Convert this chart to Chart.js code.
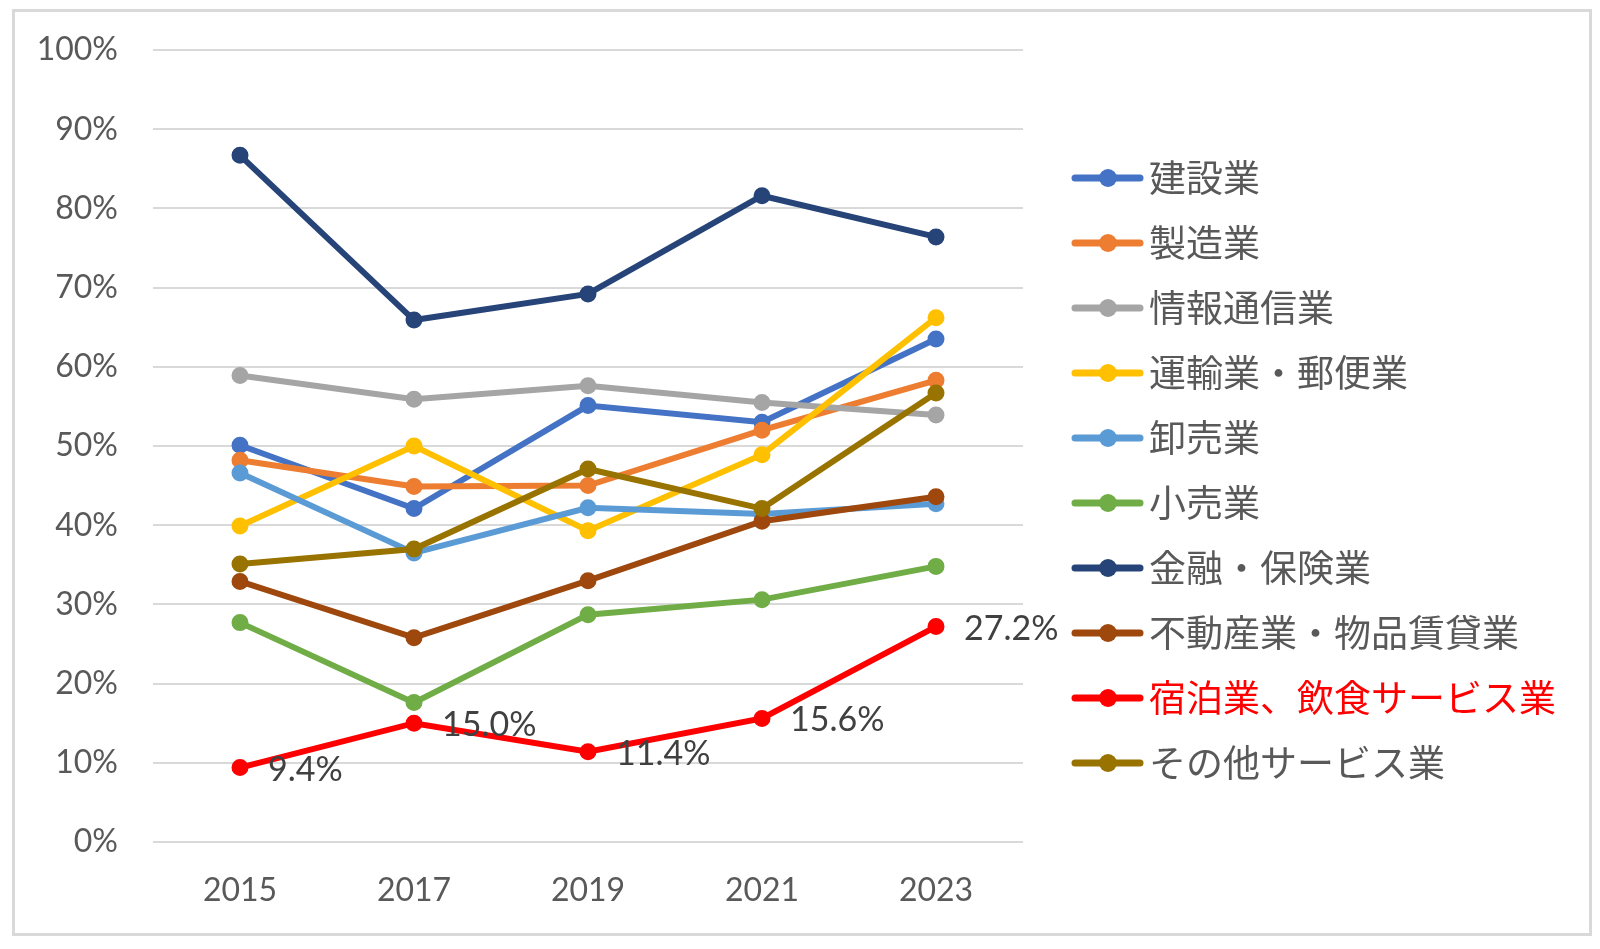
<!DOCTYPE html>
<html lang="ja">
<head>
<meta charset="utf-8">
<title>業種別 推移</title>
<script src="https://cdn.jsdelivr.net/npm/chart.js@4/dist/chart.umd.min.js"></script>
<style>
  html, body { margin: 0; padding: 0; background: #fff; }
  #wrap { position: relative; width: 1600px; height: 949px; }
  #frame {
    position: absolute; left: 12px; top: 9px; width: 1574px; height: 921px;
    border: 3px solid #d9d9d9;
  }
  #chartBox { position: absolute; left: 0; top: 0; width: 1600px; height: 949px; }
</style>
</head>
<body>
<div id="wrap">
  <div id="frame"></div>
  <div id="chartBox"><canvas id="lineChart"></canvas></div>
</div>
<script>
// data (%)
const years = ["2015", "2017", "2019", "2021", "2023"];
const yTicks = [0, 10, 20, 30, 40, 50, 60, 70, 80, 90, 100];

const industries = [
  "建設業",
  "製造業",
  "情報通信業",
  "運輸業・郵便業",
  "卸売業",
  "小売業",
  "金融・保険業",
  "不動産業・物品賃貸業",
  "宿泊業、飲食サービス業",
  "その他サービス業",
];

const construction = [50.1, 42.1, 55.1, 53.0, 63.5];
const manufacturing = [48.2, 44.9, 45.0, 52.0, 58.3];
const infoComm = [58.9, 55.9, 57.6, 55.5, 53.9];
const transport = [39.9, 50.0, 39.3, 48.9, 66.2];
const wholesale = [46.6, 36.5, 42.2, 41.4, 42.7];
const retail = [27.7, 17.6, 28.7, 30.6, 34.8];
const finance = [86.7, 65.9, 69.2, 81.6, 76.4];
const realEstate = [32.9, 25.8, 33.0, 40.5, 43.6];
const hospitality = [9.4, 15.0, 11.4, 15.6, 27.2];
const otherServices = [35.1, 37.0, 47.1, 42.1, 56.7];

const seriesValues = [
  construction, manufacturing, infoComm, transport, wholesale,
  retail, finance, realEstate, hospitality, otherServices,
];

const seriesColors = [
  "#4472C4", "#ED7D31", "#A5A5A5", "#FFC000", "#5B9BD5",
  "#70AD47", "#264478", "#9E480E", "#FF0000", "#997300",
];

const labeledSeries = 8; // 宿泊業、飲食サービス業 gets value labels
const numFont = "Lato, 'Noto Sans', sans-serif";
const jpFont = "'Noto Sans CJK JP', 'Noto Sans', sans-serif";

// legend drawn by hand: line + dot, then the name
const sideLegend = {
  id: "sideLegend",
  afterDraw(chart) {
    const ctx = chart.ctx;
    ctx.save();
    chart.data.datasets.forEach((ds, i) => {
      const y = 178 + i * 65;
      ctx.strokeStyle = ds.borderColor;
      ctx.lineWidth = 7;
      ctx.lineCap = "round";
      ctx.beginPath();
      ctx.moveTo(1075, y);
      ctx.lineTo(1140, y);
      ctx.stroke();
      ctx.fillStyle = ds.borderColor;
      ctx.beginPath();
      ctx.arc(1108, y, 9, 0, Math.PI * 2);
      ctx.fill();
      ctx.fillStyle = i === labeledSeries ? "#FF0000" : "#595959";
      ctx.font = "37px " + jpFont;
      ctx.textAlign = "left";
      ctx.textBaseline = "middle";
      ctx.fillText(ds.label, 1149, y);
    });
    ctx.restore();
  },
};

// value labels to the right of each point of one series
const pointLabels = {
  id: "pointLabels",
  afterDatasetsDraw(chart) {
    const ctx = chart.ctx;
    const meta = chart.getDatasetMeta(labeledSeries);
    const values = chart.data.datasets[labeledSeries].data;
    ctx.save();
    ctx.font = "34px " + numFont;
    ctx.fillStyle = "#404040";
    ctx.textAlign = "left";
    ctx.textBaseline = "middle";
    meta.data.forEach((pt, i) => {
      ctx.fillText(values[i].toFixed(1) + "%", pt.x + 28, pt.y + 2);
    });
    ctx.restore();
  },
};

function buildDatasets() {
  return industries.map((name, i) => ({
    label: name,
    data: seriesValues[i],
    borderColor: seriesColors[i],
    backgroundColor: seriesColors[i],
    borderWidth: 6,
    pointRadius: 7.5,
    pointBorderWidth: 2,
    pointBackgroundColor: seriesColors[i],
    pointBorderColor: seriesColors[i],
    tension: 0,
    order: industries.length - i, // later series on top, like the original
  }));
}

const chartContext = document.getElementById("lineChart").getContext("2d");

new Chart(chartContext, {
  type: "line",
  data: { labels: years, datasets: buildDatasets() },
  options: {
    responsive: true,
    maintainAspectRatio: false,
    animation: false,
    layout: { padding: { left: 0, right: 577, top: 50, bottom: 0 } },
    plugins: {
      legend: { display: false },
      tooltip: { enabled: false },
    },
    scales: {
      x: {
        offset: true,
        grid: { display: false, drawTicks: false },
        border: { display: false },
        ticks: {
          padding: 29,
          color: "#595959",
          font: { family: numFont, size: 32 },
        },
        afterFit(scale) {
          scale.height = 107;
        },
      },
      y: {
        min: 0,
        max: 100,
        afterBuildTicks(scale) {
          scale.ticks = yTicks.map((v) => ({ value: v }));
        },
        grid: { color: "#d9d9d9", lineWidth: 2, drawTicks: false },
        border: { display: false },
        ticks: {
          padding: 35,
          color: "#595959",
          font: { family: numFont, size: 32 },
          callback: (v) => v + "%",
        },
        afterFit(scale) {
          scale.width = 153;
          // tick padding would otherwise push the plot top down
          scale.paddingTop = 0;
          scale.paddingBottom = 0;
        },
      },
    },
  },
  plugins: [pointLabels, sideLegend],
});
</script>
</body>
</html>
